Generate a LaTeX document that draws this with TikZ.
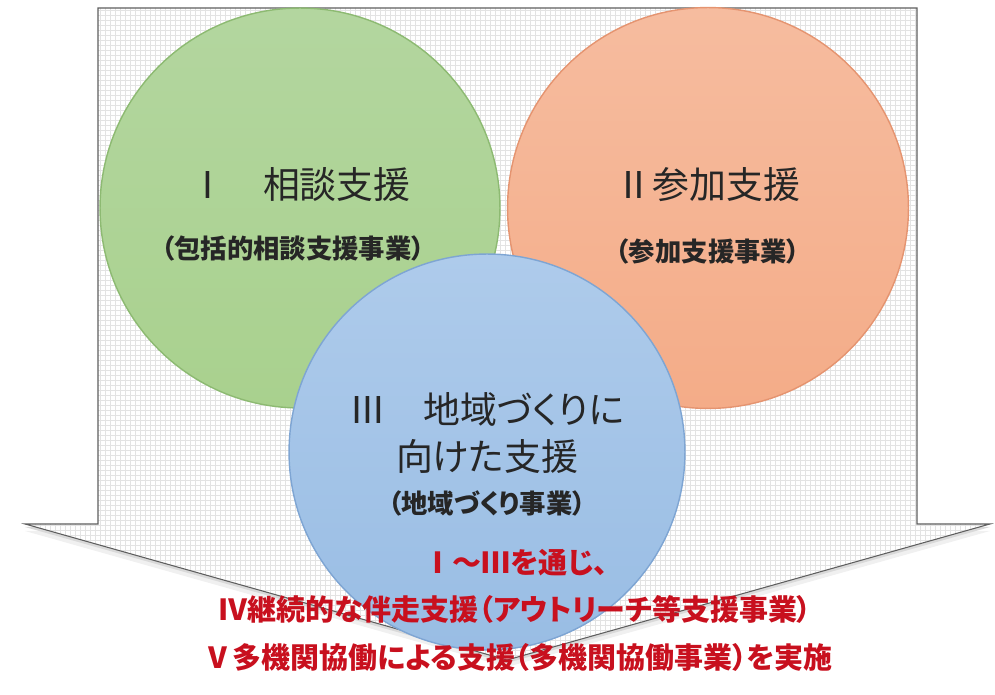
\documentclass[tikz,border=0pt]{standalone}
\usepackage{fontspec}
\newfontfamily\jpfont[RawFeature=+palt]{Noto Sans CJK JP}
\newfontfamily\jpnum{Noto Sans CJK JP}
\usetikzlibrary{calc}
\definecolor{sodangreen}{HTML}{A9D18E}
\definecolor{sodangreentop}{HTML}{B3D69F}
\definecolor{sodanedge}{HTML}{8DBA72}
\definecolor{sankaorange}{HTML}{F4AC88}
\definecolor{sankaorangetop}{HTML}{F6BC9F}
\definecolor{sankaedge}{HTML}{E59470}
\definecolor{chiikiblue}{HTML}{99BDE4}
\definecolor{chiikibluetop}{HTML}{AECBEB}
\definecolor{chiikiedge}{HTML}{7EA5D3}
\definecolor{jissired}{HTML}{C8101E}
\definecolor{arrowedge}{HTML}{5E5E5E}

\begin{document}
\begin{tikzpicture}[x=0.02cm,y=-0.02cm,
    circ/.style={circle,inner sep=0pt,line width=0.8pt},
    title/.style={font=\jpfont\fontsize{21}{25}\selectfont,text=black!85},
    sub/.style={font=\jpfont\bfseries\fontsize{15}{18}\selectfont,text=black!85},
    redline/.style={font=\jpfont\bfseries\fontsize{16.5}{20}\selectfont,text=jissired}]
    \useasboundingbox (0,0) rectangle (995,695);

    % Big arrow
    \coordinate (tl) at (98,8);
    \coordinate (tr) at (917,8);
    \coordinate (sr) at (917,524);
    \coordinate (hr) at (990,524);
    \coordinate (tip) at (507,660);
    \coordinate (hl) at (25,524);
    \coordinate (sl) at (98,524);
    \fill[gray!12] ($(hr)+(0,7)$) -- ($(tip)+(0,7)$) -- ($(hl)+(0,7)$) -- cycle;
    \fill[gray!30] ($(hr)+(0,3)$) -- ($(tip)+(0,3)$) -- ($(hl)+(0,3)$) -- cycle;
    \fill[white] (tl) -- (tr) -- (sr) -- (hr) -- (tip) -- (hl) -- (sl) -- cycle;
    \begin{scope}
        \clip (tl) -- (tr) -- (sr) -- (hr) -- (tip) -- (hl) -- (sl) -- cycle;
        \draw[gray!22,line width=0.2pt,step=0.1cm] (0,0) grid (995,695);
    \end{scope}
    \draw[arrowedge,line width=0.6pt] (tl) -- (tr) -- (sr) -- (hr) -- (tip) -- (hl) -- (sl) -- cycle;

    % Circles
    \node[circ,minimum size=8cm,draw=sodanedge,top color=sodangreentop,bottom color=sodangreen] (sodan) at (300,208) {};
    \node[circ,minimum size=8.02cm,draw=sankaedge,top color=sankaorangetop,bottom color=sankaorange] (sanka) at (708,208) {};
    \node[circ,minimum size=7.92cm,draw=chiikiedge,top color=chiikibluetop,bottom color=chiikiblue] (chiiki) at (487,452) {};

    % Labels
    \node[title] (sodantitle) at (300,185) {{\jpnum Ⅰ}　相談支援};
    \node[sub] (sodansub) at (293,248) {（包括的相談支援事業）};
    \node[title] (sankatitle) at (708,185) {{\jpnum Ⅱ}参加支援};
    \node[sub] (sankasub) at (708,251) {（参加支援事業）};
    \node[title] (chiikititle) at (487,409) {{\jpnum Ⅲ}　地域づくりに};
    \node[title] (chiikititleb) at (487,457) {向けた支援};
    \node[sub] (chiikisub) at (487,503) {（地域づくり事業）};

    % Implementation text
    \node[redline] (line1) at (516,563) {{\jpnum Ⅰ～Ⅲ}を通じ、};
    \node[redline] (line2) at (515,609) {{\jpnum Ⅳ}継続的な伴走支援（アウトリーチ等支援事業）};
    \node[redline] (line3) at (518,657) {{\jpnum Ⅴ}多機関協働による支援（多機関協働事業）を実施};
\end{tikzpicture}
\end{document}
